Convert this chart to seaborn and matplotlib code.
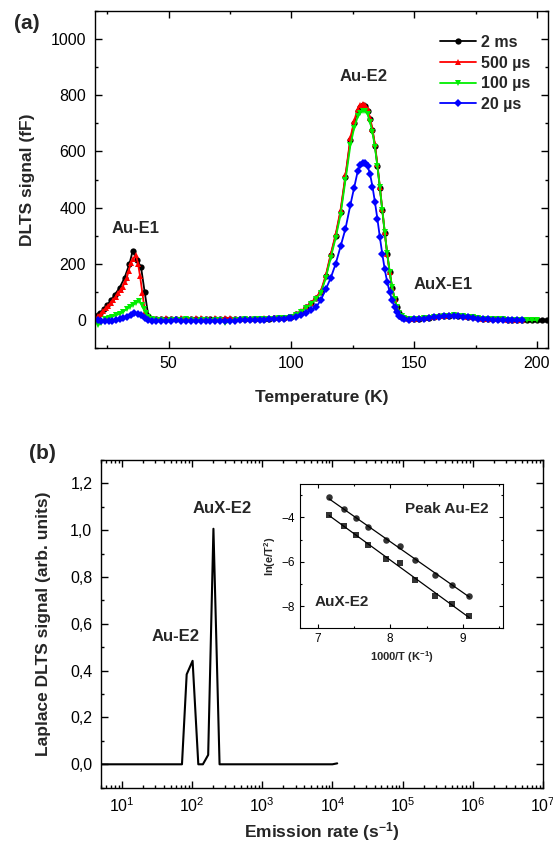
import numpy as np
import matplotlib
matplotlib.use('Agg')
import matplotlib.pyplot as plt
import matplotlib.ticker as mticker
import seaborn as sns

sns.set_theme(style='ticks')
plt.rcParams['font.family'] = ['Liberation Sans', 'DejaVu Sans']
plt.rcParams.update({
    'mathtext.fontset': 'custom',
    'mathtext.rm': 'Liberation Sans',
    'mathtext.bf': 'Liberation Sans:bold',
    'mathtext.it': 'Liberation Sans:italic',
    'xtick.direction': 'in', 'ytick.direction': 'in',
    'xtick.top': True, 'ytick.right': True,
    'axes.linewidth': 1.0,
    'xtick.color': 'black', 'ytick.color': 'black',
    'axes.edgecolor': 'black',
})

# ---- (a) DLTS spectra: temperature grids (K) ----
T_FLAT = [45, 47, 49, 51, 53, 55, 57, 59, 61, 63, 65, 67, 69, 71, 73, 75, 77, 79,
          81, 83, 85, 87, 89, 91, 93, 95, 97, 99]
T_PEAK = [100, 102, 104, 106, 108, 110, 112, 114, 116, 118, 120, 122, 124, 125.5,
          127, 128, 129, 130, 131, 132, 133, 134, 135, 136, 137, 138, 139, 140,
          141, 142, 143, 144, 145, 146]
T_TAIL = [148, 150, 152, 154, 156, 158, 160, 162, 164, 166, 168, 170, 172, 174,
          176, 178, 180, 182, 184, 186, 188, 190, 192, 194, 196, 198, 200, 202, 204]

# 2 ms
t_e1_2ms = [21, 22, 23.5, 25, 26.5, 28, 30, 32, 34, 35.3, 37, 38.7, 40.2, 41.7, 43]
v_e1_2ms = [18, 24, 38, 55, 70, 90, 115, 150, 200, 245, 215, 190, 100, 15, 5]
v_flat_2ms = [3, 2, 4, 3, 2, 3, 4, 3, 2, 3, 4, 3, 2, 3, 4, 3, 2, 3, 4, 3, 3, 4, 5,
              5, 6, 7, 8, 9]
v_peak_2ms = [10, 20, 30, 45, 60, 78, 100, 155, 230, 300, 385, 510, 640, 700, 745,
              758, 765, 762, 745, 715, 675, 620, 550, 470, 390, 310, 235, 170, 115,
              75, 45, 25, 12, 6]
v_tail_2ms = [3, 4, 5, 6, 8, 10, 13, 15, 16, 17, 16, 14, 11, 9, 7, 5, 4, 3, 2, 2,
              1, 1, 1, 0, 0, 0, 0, 0, 0]

# 500 us
t_e1_500 = [21.3, 22.3, 23.4, 24.4, 25.4, 26.4, 27.4, 28.4, 29.5, 30.4, 31.3, 32.1,
            32.9, 33.7, 34.5, 35.6, 36.7, 37.5, 38.3, 39.3, 40.3, 41.5, 43]
v_e1_500 = [15, 22, 33, 42, 51, 61, 71, 83, 95, 108, 119, 135, 150, 175, 202, 218,
            230, 200, 158, 95, 30, 8, 4]
v_flat_500 = [5, 4, 6, 5, 4, 6, 5, 4, 6, 7, 5, 4, 6, 5, 7, 8, 5, 4, 5, 4, 5, 5, 6,
              6, 7, 7, 8, 9]
v_peak_500 = [11, 21, 32, 47, 62, 80, 104, 160, 235, 305, 392, 515, 648, 708, 752,
              765, 770, 767, 750, 720, 680, 625, 555, 475, 395, 312, 236, 170, 115,
              74, 44, 24, 12, 6]
v_tail_500 = [3, 4, 6, 7, 9, 11, 14, 16, 17, 18, 17, 15, 12, 9, 7, 5, 4, 3, 2, 2,
              1, 1, 1, 0]

# 100 us
t_e1_100 = [21.3, 22.5, 24, 25.5, 27, 28.5, 30, 31.5, 33, 34.2, 35.5, 36.8, 38, 39,
            39.9, 40.8, 41.7, 43]
v_e1_100 = [-18, -10, 2, 8, 12, 17, 22, 30, 40, 48, 55, 62, 69, 55, 39, 25, 12, 3]
v_flat_100 = [1, 0, -2, 1, 0, -1, 2, 0, -2, 1, 0, -3, 1, 0, -10, -6, 0, 1, 2, 1, 2,
              3, 3, 4, 5, 6, 7, 8]
v_peak_100 = [10, 19, 29, 43, 58, 75, 97, 150, 222, 292, 375, 498, 622, 682, 725,
              738, 745, 745, 732, 705, 668, 615, 548, 472, 392, 312, 238, 172, 118,
              76, 46, 26, 13, 6]
v_tail_100 = [3, 4, 5, 6, 8, 10, 12, 14, 16, 17, 16, 14, 11, 9, 7, 5, 4, 3, 2, 2,
              1, 1, 1, 0, 0, 0, 0]

# 20 us
t_e1_20 = [21, 22.5, 24, 25.5, 27, 28.5, 30, 31.5, 33, 34.5, 36, 37.5, 38.8, 40.2,
           41.7, 43]
v_e1_20 = [0, -3, -5, -4, -2, 0, 3, 7, 12, 18, 24, 22, 18, 8, 0, -2]
v_flat_20 = [-2, -3, -2, -3, -1, -2, -3, -2, -3, -4, -3, -2, -3, -4, -3, -2, -3, -1,
             0, -1, 0, 1, 1, 2, 3, 4, 5, 6]
v_peak_20 = [8, 12, 18, 25, 35, 45, 72, 110, 150, 200, 262, 325, 410, 470, 530, 552,
             560, 560, 548, 520, 475, 420, 360, 295, 235, 180, 135, 100, 70, 45, 28,
             15, 8, 4]
v_tail_20 = [1, 2, 3, 5, 7, 9, 11, 13, 14, 14, 13, 11, 9, 7, 5, 3, 2, 1, 0, 0, 0,
             -1, -1, -1]

series_a = [
    ('2 ms', 'black', 'o', 4.5, t_e1_2ms, v_e1_2ms, v_flat_2ms, v_peak_2ms, v_tail_2ms),
    ('500 µs', '#ff0000', '^', 5.0, t_e1_500, v_e1_500, v_flat_500, v_peak_500, v_tail_500),
    ('100 µs', '#00ee00', 'v', 5.0, t_e1_100, v_e1_100, v_flat_100, v_peak_100, v_tail_100),
    ('20 µs', '#0000ff', 'D', 4.2, t_e1_20, v_e1_20, v_flat_20, v_peak_20, v_tail_20),
]

# ---- (b) Laplace DLTS ----
rate_b = [5, 72, 84, 102, 123, 143, 170, 202, 247, 10000, 11700]
sig_b = [0, 0, 0.384, 0.442, 0, 0, 0.04, 1.006, 0, 0, 0.004]
rate_ticks = [1e1, 1e2, 1e3, 1e4, 1e5, 1e6, 1e7]

# inset: Arrhenius
inv_T_peak = [7.16, 7.36, 7.53, 7.70, 7.94, 8.14, 8.34, 8.62, 8.85, 9.09]
ln_peak = [-3.10, -3.63, -4.03, -4.43, -5.02, -5.30, -5.92, -6.59, -7.03, -7.52]
inv_T_aux = [7.16, 7.36, 7.53, 7.70, 7.94, 8.14, 8.34, 8.62, 8.85, 9.09]
ln_aux = [-3.87, -4.39, -4.81, -5.23, -5.86, -6.07, -6.82, -7.52, -7.91, -8.45]

fig = plt.figure(figsize=(5.53, 8.47), dpi=100)
ax1 = fig.add_axes([0.171, 0.589, 0.820, 0.398])
ax2 = fig.add_axes([0.182, 0.070, 0.800, 0.387])

for lab, col, mk, ms, t_e1, v_e1, v_flat, v_peak, v_tail in series_a:
    T = list(t_e1) + T_FLAT + T_PEAK + T_TAIL[:len(v_tail)]
    V = list(v_e1) + v_flat + v_peak + v_tail
    sns.lineplot(x=T, y=V, ax=ax1, color=col, marker=mk, markersize=ms,
                 markeredgewidth=0, linewidth=1.3, label=lab, sort=False)

ax1.set_xlim(19.8, 204.5)
ax1.set_ylim(-100, 1100)
ax1.xaxis.set_major_locator(mticker.MultipleLocator(50))
ax1.xaxis.set_minor_locator(mticker.MultipleLocator(25))
ax1.yaxis.set_major_locator(mticker.MultipleLocator(200))
ax1.yaxis.set_minor_locator(mticker.MultipleLocator(100))
ax1.tick_params(which='major', length=5, width=1, labelsize=11.5, pad=6)
ax1.tick_params(which='minor', length=2.5, width=1)
ax1.set_xlabel('Temperature (K)', fontsize=12.5, fontweight='bold', labelpad=13)
ax1.set_ylabel('DLTS signal (fF)', fontsize=12.5, fontweight='bold', labelpad=11)
ax1.text(36.6, 327, 'Au-E1', ha='center', va='center', fontsize=12, fontweight='bold')
ax1.text(129.5, 867, 'Au-E2', ha='center', va='center', fontsize=12, fontweight='bold')
ax1.text(161.6, 125, 'AuX-E1', ha='center', va='center', fontsize=12, fontweight='bold')
ax1.legend(loc='upper right', bbox_to_anchor=(0.975, 0.948), frameon=False,
           prop={'weight': 'bold', 'size': 11.5}, handlelength=2.3,
           handletextpad=0.3, labelspacing=0.35, borderaxespad=0)

sns.lineplot(x=rate_b, y=sig_b, ax=ax2, color='black', linewidth=1.5, sort=False)
ax2.set_xscale('log')
ax2.set_xlim(5, 1e7)
ax2.set_ylim(-0.1, 1.3)
ax2.set_xticks(rate_ticks)
ax2.xaxis.set_minor_locator(mticker.LogLocator(base=10, subs=np.arange(2, 10), numticks=12))
ax2.xaxis.set_minor_formatter(mticker.NullFormatter())
ax2.yaxis.set_major_locator(mticker.MultipleLocator(0.2))
ax2.yaxis.set_minor_locator(mticker.MultipleLocator(0.1))
ax2.yaxis.set_major_formatter(mticker.FuncFormatter(lambda v, p: f'{v:.1f}'.replace('.', ',')))
ax2.tick_params(which='major', length=5, width=1, labelsize=11.5, pad=6)
ax2.tick_params(which='minor', length=2.5, width=1)
ax2.set_xlabel('Emission rate (s$^{\\mathbf{-1}}$)', fontsize=12.5, fontweight='bold', labelpad=4)
ax2.set_ylabel('Laplace DLTS signal (arb. units)', fontsize=12.5, fontweight='bold', labelpad=14)
ax2.text(265, 1.093, 'AuX-E2', ha='center', va='center', fontsize=12, fontweight='bold')
ax2.text(58, 0.544, 'Au-E2', ha='center', va='center', fontsize=12, fontweight='bold')

axin = ax2.inset_axes([0.451, 0.486, 0.458, 0.44])
sns.regplot(x=inv_T_peak, y=ln_peak, ax=axin, ci=None, color='black', marker='o',
            scatter_kws={'s': 22, 'linewidths': 0}, line_kws={'linewidth': 0.9})
sns.regplot(x=inv_T_aux, y=ln_aux, ax=axin, ci=None, color='black', marker='s',
            scatter_kws={'s': 20, 'linewidths': 0}, line_kws={'linewidth': 0.9})
axin.set_xlim(6.76, 9.55)
axin.set_ylim(-9, -2.5)
axin.xaxis.set_major_locator(mticker.MultipleLocator(1))
axin.xaxis.set_minor_locator(mticker.MultipleLocator(0.5))
axin.yaxis.set_major_locator(mticker.MultipleLocator(2))
axin.yaxis.set_minor_locator(mticker.MultipleLocator(1))
axin.tick_params(which='major', length=3, width=0.8, labelsize=8.5)
axin.tick_params(which='minor', length=1.5, width=0.8)
for s in axin.spines.values():
    s.set_linewidth(0.8)
axin.set_xlabel('1000/T (K$^{\\mathbf{-1}}$)', fontsize=8, fontweight='bold', labelpad=3)
axin.set_ylabel('ln(e/T$^{\\mathbf{2}}$)', fontsize=8, fontweight='bold', labelpad=3)
axin.text(8.78, -3.63, 'Peak Au-E2', ha='center', va='center', fontsize=11, fontweight='bold')
axin.text(7.33, -7.82, 'AuX-E2', ha='center', va='center', fontsize=11, fontweight='bold')

fig.text(0.049, 0.972, '(a)', fontsize=15, fontweight='bold', ha='center', va='center')
fig.text(0.076, 0.464, '(b)', fontsize=15, fontweight='bold', ha='center', va='center')

fig.savefig('out.png', dpi=100)
